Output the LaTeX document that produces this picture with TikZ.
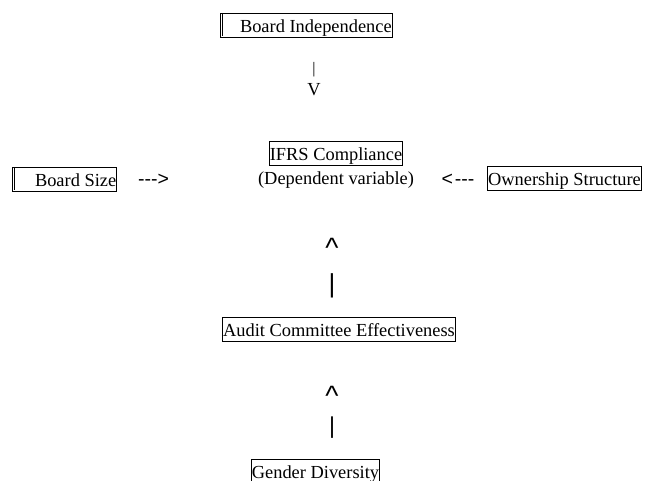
\documentclass[tikz,border=0pt]{standalone}
\usepackage{fontspec}
\setmainfont{Liberation Serif}
\newfontfamily\signfont{Liberation Sans}

\tikzset{
  varbox/.style={draw=black, line width=0.8pt, inner xsep=0.6pt, inner ysep=0.5pt,
    text height=19pt, text depth=4pt},
  signmark/.style={inner sep=0pt, font=\signfont\fontsize{19.5pt}{22pt}\selectfont},
}

\begin{document}
\begin{tikzpicture}[x=1pt, y=-1pt, font=\fontsize{18.4pt}{22pt}\selectfont]
        \useasboundingbox (0,0) rectangle (647,481); % page size
        \clip (0,0) rectangle (647,481); % last box runs off the page
        \node[varbox, anchor=west] (indep) at (220,25) {\hspace*{19pt}Board Independence}; % top variable
        \draw[line width=0.5pt] ([xshift=2.5pt,yshift=-1.5pt]indep.north west) -- ([xshift=2.5pt,yshift=1.5pt]indep.south west); % cursor bar
        \node[inner sep=0pt, font=\fontsize{16pt}{16pt}\selectfont] (indepbar) at (314,70) {|}; % text arrow shaft
        \node[inner sep=0pt] (indephead) at (314,90) {V}; % text arrow head
        \node[varbox, anchor=west] (size) at (12,179) {\hspace*{22pt}Board Size}; % left variable
        \draw[line width=0.5pt] ([xshift=2.5pt,yshift=-1.5pt]size.north west) -- ([xshift=2.5pt,yshift=1.5pt]size.south west); % cursor bar
        \node[signmark] (sizearrow) at (153.5,180) {-{}-{}->}; % text arrow
        \node[varbox] (ifrs) at (336,153) {IFRS Compliance}; % dependent variable
        \node[inner sep=0pt] (dep) at (336,180) {(Dependent variable)};
        \node[signmark] (ownarrow) at (458,180) {<\kern2pt-{}-{}-}; % text arrow
        \node[varbox] (own) at (564.5,178) {Ownership Structure}; % right variable
        \node[signmark, font=\signfont\fontsize{28pt}{28pt}\selectfont] (auditcaret) at (332,248) {\textasciicircum}; % text arrow head
        \node[signmark, font=\signfont\fontsize{26pt}{26pt}\selectfont] (auditbar) at (332,285.5) {|}; % text arrow shaft
        \node[varbox] (audit) at (339,329) {Audit Committee Effectiveness}; % mediator
        \node[signmark, font=\signfont\fontsize{28pt}{28pt}\selectfont] (gendercaret) at (332,396) {\textasciicircum}; % text arrow head
        \node[signmark, font=\signfont\fontsize{23pt}{23pt}\selectfont] (genderbar) at (332,427.5) {|}; % text arrow shaft
        \node[varbox, anchor=north] (gender) at (315.5,458.5) {Gender Diversity}; % bottom variable
    \end{tikzpicture}
\end{document}
